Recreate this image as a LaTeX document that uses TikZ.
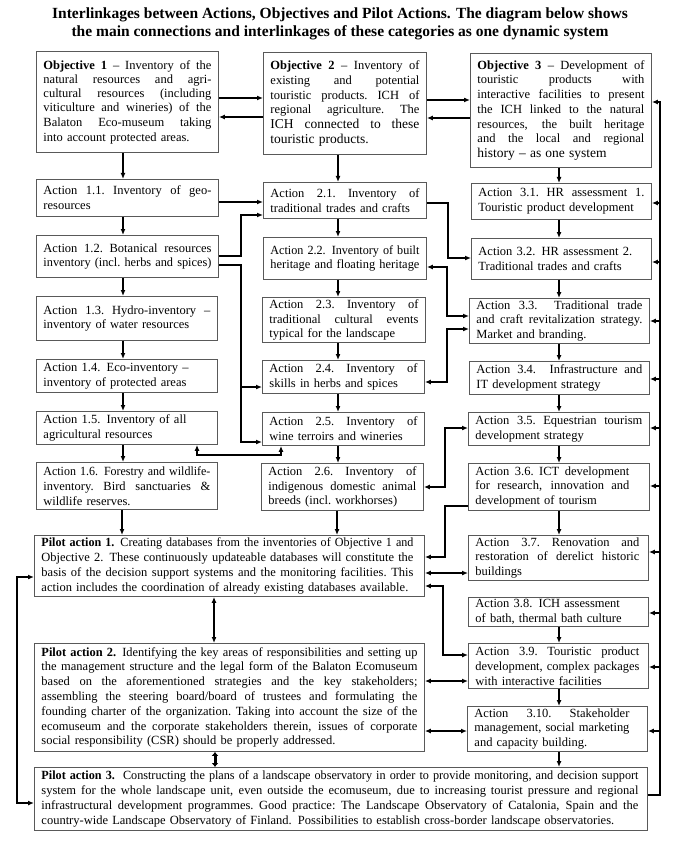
\documentclass[tikz,border=0pt]{standalone}
\usepackage{fontspec}
\usepackage{graphicx}
\setmainfont{Liberation Serif}
\usetikzlibrary{arrows.meta}
\newcommand\fs{\fontsize{12.5}{14.8}\selectfont}
\newsavebox\jlbox
% justified line (stretched to the width, squeezed if too long)
\newcommand\jl[2][\hsize]{\sbox\jlbox{#2}\ifdim\wd\jlbox>#1\relax\resizebox{#1}{\height}{\usebox\jlbox}\else\makebox[#1][s]{\spaceskip=\fontdimen2\font plus 1fil\relax\xspaceskip=\spaceskip\relax #2}\fi\\}
% left-aligned line (squeezed if too long)
\newcommand\lastl[1]{\sbox\jlbox{#1}\ifdim\wd\jlbox>\hsize\relax\resizebox{\hsize}{\height}{\usebox\jlbox}\else\usebox\jlbox\fi}
\newcommand\bxnode[6]{%
  \pgfmathsetmacro\bxw{#3-#2-14}%
  \pgfmathsetmacro\bxh{#5-#4}%
  \node[abox, text width=\bxw pt, minimum height=\bxh pt, anchor=north west] (#1) at (#2,#4) {#6};}
\newcommand\va[3]{\draw[arr] (#1,0 |- #2.south) -- (#1,0 |- #3.north);}
\tikzset{
  abox/.style={draw=black!65, line width=0.9pt, inner xsep=7pt, inner ysep=0pt, font=\fs, align=left, fill=white},
  arr/.style={-{Latex[length=6pt,width=5pt]}, line width=1.6pt},
  darr/.style={{Latex[length=6pt,width=5pt]}-{Latex[length=6pt,width=5pt]}, line width=1.6pt},
  tarr/.style={{Latex[length=4pt,width=7pt]}-{Latex[length=4pt,width=7pt]}, line width=3pt},
}
\begin{document}
\begin{tikzpicture}[x=1pt,y=-1pt]
\fill[white] (0,0) rectangle (681,850);
\useasboundingbox (0,0) rectangle (681,850);

\node[font=\fontsize{15.5}{17.5}\bfseries\selectfont, align=center, inner sep=0pt] (title) at (340,24)
  {Interlinkages between Actions, Objectives and Pilot Actions. The diagram below shows\\
   the main connections and interlinkages of these categories as one dynamic system};

% Objectives
\bxnode{O1}{36}{218}{51}{152}{\fontsize{12.5}{14.3}\selectfont
\jl{\textbf{Objective 1} – Inventory of the}\jl{natural resources and agri-}\jl{cultural resources (including}\jl{viticulture and wineries) of the}\jl{Balaton Eco-museum taking}\lastl{into account protected areas.}}
\bxnode{O2}{263}{426}{52}{154}{\fontsize{12.5}{14.6}\selectfont
\jl{\textbf{Objective 2} – Inventory of}\jl{existing and potential}\jl{touristic products. ICH of}\jl{regional agriculture. The}\jl{\fontsize{13.5}{15}\selectfont ICH connected to these}\lastl{\fontsize{13.5}{15}\selectfont touristic products.}}
\bxnode{O3}{470}{651}{53}{167}{\fontsize{12.5}{14.7}\selectfont
\jl{\textbf{Objective 3} – Development of}\jl{touristic products with}\jl{interactive facilities to present}\jl{the ICH linked to the natural}\jl{resources, the built heritage}\jl{and the local and regional}\lastl{\fontsize{13.5}{15}\selectfont history – as one system}}

% Column 1
\bxnode{A11}{36}{218}{179}{216}{\jl{Action 1.1. Inventory of geo-}\lastl{resources}}
\bxnode{A12}{36}{218}{235}{277}{\jl{Action 1.2. Botanical resources}\lastl{inventory (incl.\ herbs and spices)}}
\bxnode{A13}{36}{217}{296}{340}{\jl{Action 1.3. Hydro-inventory –}\lastl{inventory of water resources}}
\bxnode{A14}{36}{217}{359}{392}{\lastl{Action 1.4. Eco-inventory –}\\\lastl{inventory of protected areas}}
\bxnode{A15}{36}{217}{411}{444}{\lastl{Action 1.5. Inventory of all}\\\lastl{agricultural resources}}
\bxnode{A16}{36}{217}{462}{509}{\jl{Action 1.6. Forestry and wildlife-}\jl{inventory. Bird sanctuaries \&}\lastl{wildlife reserves.}}

% Column 2
\bxnode{A21}{263}{426}{182}{218}{\jl{Action 2.1. Inventory of}\lastl{traditional trades and crafts}}
\bxnode{A22}{263}{426}{237}{279}{\jl{Action 2.2. Inventory of built}\lastl{heritage and floating heritage}}
\bxnode{A23}{262}{425}{297}{342}{\jl{Action 2.3. Inventory of}\jl{traditional cultural events}\lastl{typical for the landscape}}
\bxnode{A24}{262}{424}{360}{393}{\jl{Action 2.4. Inventory of}\lastl{skills in herbs and spices}}
\bxnode{A25}{262}{424}{412}{445}{\jl{Action 2.5. Inventory of}\lastl{wine terroirs and wineries}}
\bxnode{A26}{261}{423}{463}{510}{\jl{Action 2.6. Inventory of}\jl{indigenous domestic animal}\lastl{breeds (incl.\ workhorses)}}

% Column 3
\bxnode{A31}{471}{651}{183}{219}{\jl{Action 3.1. HR assessment 1.}\lastl{Touristic product development}}
\bxnode{A32}{471}{651}{238}{279}{\lastl{Action 3.2. HR assessment 2.}\\\lastl{Traditional trades and crafts}}
\bxnode{A33}{469}{649}{298}{343}{\jl{Action 3.3.\ \ Traditional trade}\jl{and craft revitalization strategy.}\lastl{Market and branding.}}
\bxnode{A34}{469}{649}{361}{394}{\jl{Action 3.4.\ \ Infrastructure and}\lastl{IT development strategy}}
\bxnode{A35}{468}{649}{412}{445}{\jl{Action 3.5. Equestrian tourism}\lastl{development strategy}}
\bxnode{A36}{468}{649}{463}{510}{\jl[154pt]{Action 3.6. ICT development}\jl[154pt]{for research, innovation and}\lastl{development of tourism}}
\bxnode{A37}{468}{648}{535}{580}{\jl[164pt]{Action 3.7. Renovation and}\jl[164pt]{restoration of derelict historic}\lastl{buildings}}
\bxnode{A38}{468}{648}{597}{626}{\lastl{Action 3.8. ICH assessment}\\\lastl{of bath, thermal bath culture}}
\bxnode{A39}{468}{648}{643}{688}{\jl[164pt]{Action 3.9. Touristic product}\jl[164pt]{development, complex packages}\lastl{with interactive facilities}}
\bxnode{A310}{467}{647}{706}{751}{\jl[155pt]{Action 3.10. Stakeholder}\jl[155pt]{management, social marketing}\lastl{and capacity building.}}

% Pilot actions
\bxnode{P1}{34}{424}{535}{596}{\jl[372pt]{\textbf{Pilot action 1.} Creating databases from the inventories of Objective 1 and}\jl[372pt]{Objective 2. These continuously updateable databases will constitute the}\jl[372pt]{basis of the decision support systems and the monitoring facilities. This}\lastl{action includes the coordination of already existing databases available.}}
\bxnode{P2}{34}{424}{643}{751}{\jl{\textbf{Pilot action 2.} Identifying the key areas of responsibilities and setting up}\jl{the management structure and the legal form of the Balaton Ecomuseum}\jl{based on the aforementioned strategies and the key stakeholders;}\jl{assembling the steering board/board of trustees and formulating the}\jl{founding charter of the organization. Taking into account the size of the}\jl{ecomuseum and the corporate stakeholders therein, issues of corporate}\lastl{social responsibility (CSR) should be properly addressed.}}
\bxnode{P3}{34}{647}{767}{830}{\jl[597pt]{\textbf{Pilot action 3.}\ \ Constructing the plans of a landscape observatory in order to provide monitoring, and decision support}\jl[597pt]{system for the whole landscape unit, even outside the ecomuseum, due to increasing tourist pressure and regional}\jl[597pt]{infrastructural development programmes. Good practice: The Landscape Observatory of Catalonia, Spain and the}\lastl{country-wide Landscape Observatory of Finland. Possibilities to establish cross-border landscape observatories.}}

% Objectives interlinks
\draw[arr] (O1.east |- 0,98) -- (O2.west |- 0,98);
\draw[arr] (O2.west |- 0,117) -- (O1.east |- 0,117);
\draw[arr] (O2.east |- 0,100) -- (O3.west |- 0,100);
\draw[arr] (O3.west |- 0,118) -- (O2.east |- 0,118);

% vertical chains
\va{123}{O1}{A11}\va{123}{A11}{A12}\va{123}{A12}{A13}\va{123}{A13}{A14}\va{123}{A14}{A15}\va{123}{A15}{A16}\va{122}{A16}{P1}
\va{338}{O2}{A21}\va{338}{A21}{A22}\va{338}{A22}{A23}\va{338}{A23}{A24}\va{338}{A24}{A25}\va{338}{A25}{A26}\va{337}{A26}{P1}
\va{559}{O3}{A31}\va{559}{A31}{A32}\va{559}{A32}{A33}\va{559}{A33}{A34}\va{559}{A34}{A35}\va{559}{A35}{A36}\va{559}{A36}{A37}
\va{559}{A38}{A39}\va{559}{A39}{A310}\va{559}{A310}{P3}

% column 1 -> column 2
\draw[arr] (A11.east |- 0,202) -- (A21.west |- 0,202);
\draw[arr] (A12.east |- 0,256) -| (241,215) -- (A21.west |- 0,215);
\draw[arr] (A12.east |- 0,265) -| (241,442) -- (A25.west |- 0,442);
\draw[arr] (241,387) -- (A24.west |- 0,387);
\draw[darr] (197,0 |- A15.south) |- (281,455) -- (281,0 |- A25.south);

% column 2 <-> column 3
\draw[arr] (A21.east |- 0,203) -| (448,258) -- (A32.west |- 0,258);
\draw[darr] (A22.east |- 0,267) -| (447,316) -- (A33.west |- 0,316);
\draw[darr] (A24.east |- 0,382) -| (447,329) -- (A33.west |- 0,329);
\draw[darr] (A26.east |- 0,487) -| (445,428) -- (A35.west |- 0,428);

% pilot actions <-> column 3
\draw[arr] (A36.west |- 0,506) -| (445,557) -- (P1.east |- 0,557);
\draw[darr] (P1.east |- 0,573) -- (A37.west |- 0,573);
\draw[darr] (P1.east |- 0,586) -| (443,655) -- (A39.west |- 0,655);
\draw[darr] (P2.east |- 0,681) -- (A39.west |- 0,681);
\draw[darr] (P2.east |- 0,731) -- (A310.west |- 0,731);

% pilot actions among themselves
\draw[darr] (214,0 |- P1.south) -- (214,0 |- P2.north);
\draw[tarr] (215,0 |- P2.south) -- (215,0 |- P3.north);
\draw[darr] (P1.west |- 0,577) -| (17,803) -- (P3.west |- 0,803);

% right bus from Pilot action 3
\coordinate (busR) at (660,0);
\draw[arr] (P3.east |- 0,795) -| (busR |- 0,102) -- (O3.east |- 0,102);
\foreach \n/\yy in {A31/203,A32/262,A33/321,A34/379,A35/428,A36/486,A37/552,A38/613,A39/667,A310/731}
  \draw[arr] (busR |- 0,\yy) -- (\n.east |- 0,\yy);
\end{tikzpicture}
\end{document}
